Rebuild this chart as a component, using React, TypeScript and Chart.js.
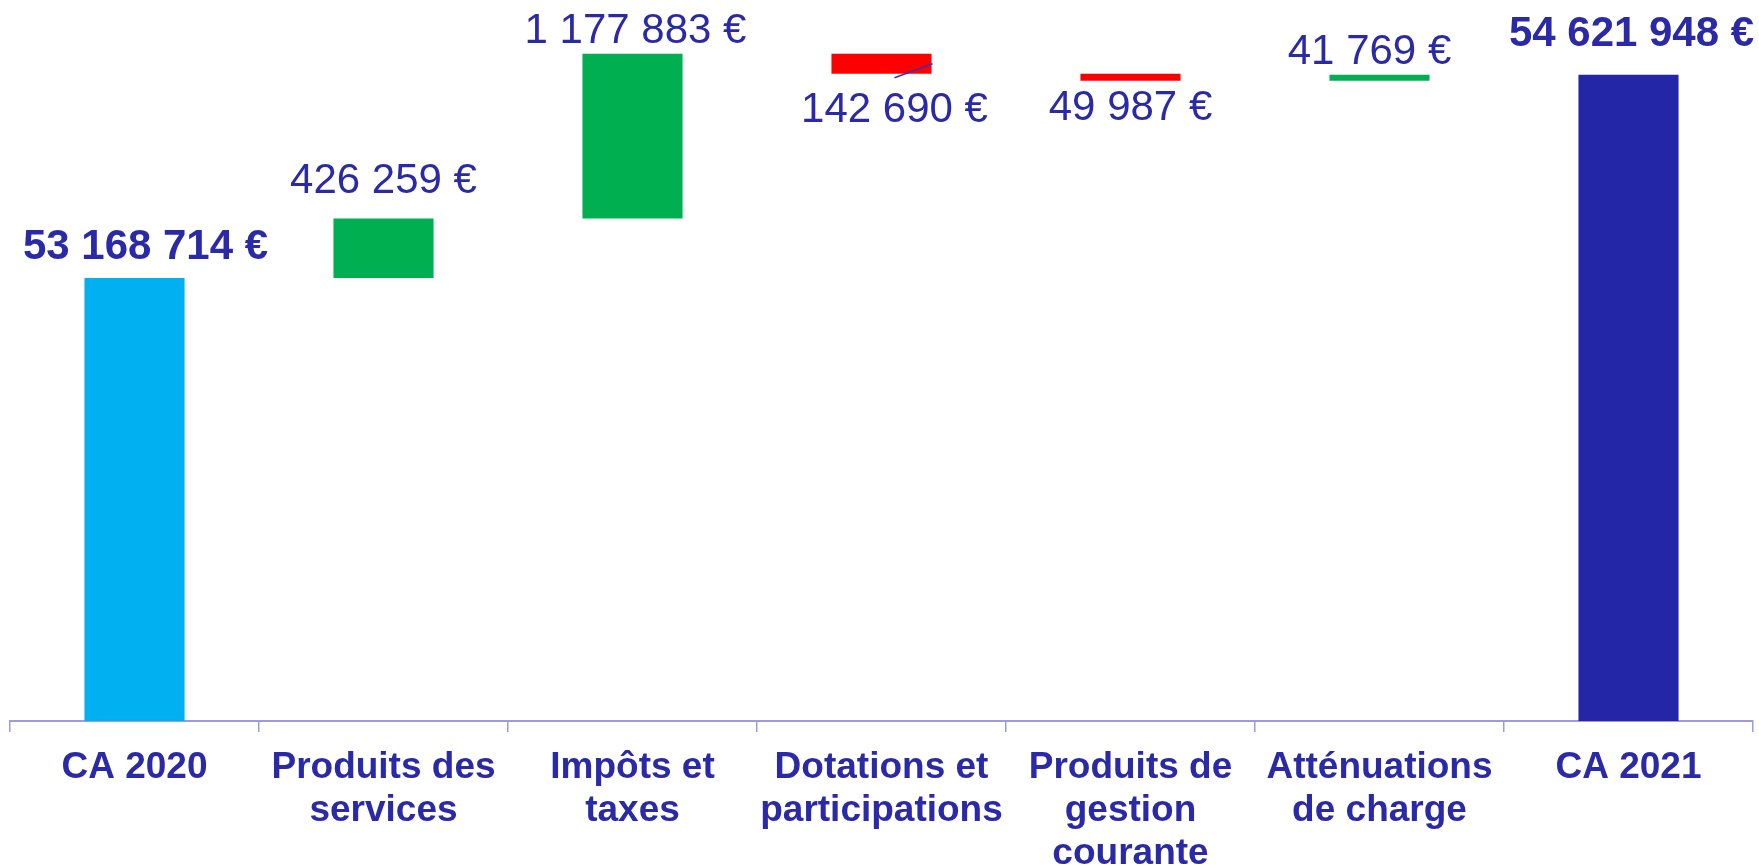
import React, { useEffect, useRef } from "react";
import { Chart, registerables } from "chart.js";

Chart.register(...registerables);

const categories: string[][] = [
  ["CA 2020"],
  ["Produits des", "services"],
  ["Impôts et", "taxes"],
  ["Dotations et", "participations"],
  ["Produits de", "gestion", "courante"],
  ["Atténuations", "de charge"],
  ["CA 2021"],
];

const values: number[] = [53168714, 426259, 1177883, -142690, -49987, 41769, 54621948];
const kinds: string[] = ["total", "delta", "delta", "delta", "delta", "delta", "total"];

const yMin = 50000000;
const yMax = 55000000;

const barColors = ["#00B0F0", "#00B050", "#00B050", "#FF0000", "#FF0000", "#00B050", "#2326A6"];
const textColor = "#2A2AA8";
const axisColor = "#9C9CDC";

// label placement style (not data)
const labelPlacement = [
  { pos: "top", dx: 11, dy: -19 },
  { pos: "top", dx: 0, dy: -25 },
  { pos: "top", dx: 3, dy: -11 },
  { pos: "bottom", dx: 13, dy: 48 },
  { pos: "bottom", dx: 0, dy: 39 },
  { pos: "top", dx: -10, dy: -11 },
  { pos: "top", dx: 3, dy: -29 },
];

function fmt(v: number): string {
  const s = Math.round(Math.abs(v)).toString();
  return s.replace(/\B(?=(\d{3})+(?!\d))/g, " ") + " €";
}

function buildRanges(): [number, number][] {
  const out: [number, number][] = [];
  let running = 0;
  values.forEach((v, i) => {
    if (kinds[i] === "total") {
      out.push([yMin, v]);
      running = v;
    } else {
      out.push([running, running + v]);
      running += v;
    }
  });
  return out;
}

const labelPlugin = {
  id: "wfLabels",
  afterDatasetsDraw(chart: any) {
    const ctx = chart.ctx;
    const meta = chart.getDatasetMeta(0);
    ctx.save();
    meta.data.forEach((el: any, i: number) => {
      const top = Math.min(el.y, el.base);
      const bottom = Math.max(el.y, el.base);
      const p = labelPlacement[i];
      const bold = kinds[i] === "total";
      ctx.font = `${bold ? "bold " : ""}42px "Liberation Sans", Arial, sans-serif`;
      ctx.fillStyle = textColor;
      ctx.textAlign = "center";
      ctx.textBaseline = "alphabetic";
      const x = el.x + p.dx;
      const y = p.pos === "top" ? top + p.dy : bottom + p.dy;
      ctx.fillText(fmt(values[i]), x, y);
      if (i === 3) {
        const half = el.width / 2;
        ctx.strokeStyle = "#3535B0";
        ctx.lineWidth = 1.5;
        ctx.beginPath();
        ctx.moveTo(el.x + 13, bottom + 4);
        ctx.lineTo(el.x + half + 1, bottom - 10);
        ctx.stroke();
      }
    });
    ctx.restore();
  },
};

export default function App() {
  const ref = useRef<HTMLCanvasElement | null>(null);
  useEffect(() => {
    document.body.style.margin = "0";
    if (!ref.current) return;
    const chart = new Chart(ref.current, {
      type: "bar",
      data: {
        labels: categories,
        datasets: [
          {
            data: buildRanges() as any,
            backgroundColor: barColors,
            borderWidth: 0,
            barPercentage: 0.402,
            categoryPercentage: 1,
            borderSkipped: false,
          },
        ],
      },
      options: {
        responsive: false,
        animation: false,
        layout: { padding: { left: 10, right: 6, top: 22, bottom: 0 } },
        plugins: { legend: { display: false }, tooltip: { enabled: false } },
        scales: {
          x: {
            offset: true,
            afterFit: (scale: any) => {
              scale.height = 145;
            },
            grid: {
              display: true,
              offset: true,
              drawOnChartArea: false,
              drawTicks: true,
              tickLength: 11,
              color: axisColor,
              lineWidth: 1.5,
            },
            border: { display: true, color: axisColor, width: 2 },
            ticks: {
              color: textColor,
              padding: 14,
              maxRotation: 0,
              autoSkip: false,
              font: { family: '"Liberation Sans", Arial, sans-serif', size: 37, weight: "bold", lineHeight: 1.165 },
            },
          },
          y: {
            display: false,
            min: yMin,
            max: yMax,
          },
        },
      },
      plugins: [labelPlugin],
    });
    return () => chart.destroy();
  }, []);
  return (
    <div style={{ width: 1759, height: 866 }}>
      <canvas ref={ref} width={1759} height={866} />
    </div>
  );
}
